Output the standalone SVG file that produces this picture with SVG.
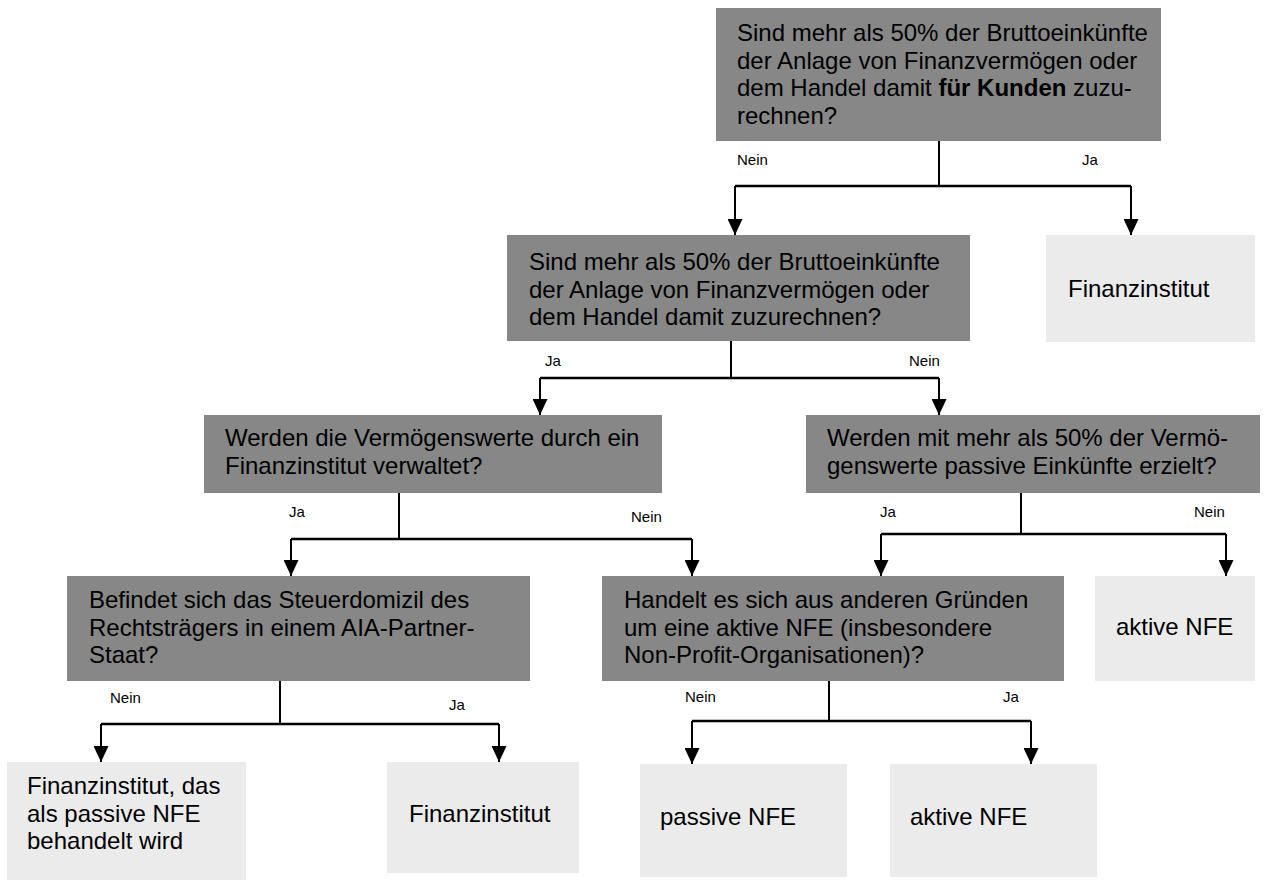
<svg xmlns="http://www.w3.org/2000/svg" width="1266" height="880" viewBox="0 0 1266 880">
<style>
.q{fill:#878787}
.r{fill:#ebebeb}
text{font-family:"Liberation Sans",Arial,sans-serif;fill:#000}
.t{font-size:24px}
.l{font-size:15px}
.bar{stroke:#000;stroke-width:2.6;fill:none}
.stem{stroke:#000;stroke-width:2;fill:none}
</style>
<defs>
<marker id="ah" markerUnits="userSpaceOnUse" markerWidth="16" markerHeight="15" refX="16" refY="7.5" orient="auto">
<path d="M0,0 L16,7.5 L0,15 z" fill="#000"/>
</marker>
</defs>
<rect width="1266" height="880" fill="#fff"/>
<g id="q1">
<rect class="q" x="716" y="8" width="445" height="133"/>
<text class="t" x="737" y="41">Sind mehr als 50% der Bruttoeinkünfte</text>
<text class="t" x="737" y="68.5">der Anlage von Finanzvermögen oder</text>
<text class="t" x="737" y="96">dem Handel damit <tspan font-weight="bold">für Kunden</tspan> zuzu-</text>
<text class="t" x="737" y="123.5">rechnen?</text>
</g>
<g id="fi1">
<rect class="r" x="1046" y="235" width="209" height="107"/>
<text class="t" x="1068" y="297">Finanzinstitut</text>
</g>
<g id="q2">
<rect class="q" x="507" y="235" width="463" height="106"/>
<text class="t" x="529" y="270">Sind mehr als 50% der Bruttoeinkünfte</text>
<text class="t" x="529" y="297.5">der Anlage von Finanzvermögen oder</text>
<text class="t" x="529" y="325">dem Handel damit zuzurechnen?</text>
</g>
<g id="q3">
<rect class="q" x="204" y="415" width="458" height="78"/>
<text class="t" x="225" y="446">Werden die Vermögenswerte durch ein</text>
<text class="t" x="225" y="473.5">Finanzinstitut verwaltet?</text>
</g>
<g id="q4">
<rect class="q" x="806" y="415" width="454" height="78"/>
<text class="t" x="827" y="446">Werden mit mehr als 50% der Vermö-</text>
<text class="t" x="827" y="473.5">genswerte passive Einkünfte erzielt?</text>
</g>
<g id="q5">
<rect class="q" x="67" y="576" width="463" height="105"/>
<text class="t" x="89" y="608">Befindet sich das Steuerdomizil des</text>
<text class="t" x="89" y="635.5">Rechtsträgers in einem AIA-Partner-</text>
<text class="t" x="89" y="663">Staat?</text>
</g>
<g id="q6">
<rect class="q" x="602" y="576" width="462" height="105"/>
<text class="t" x="624" y="608">Handelt es sich aus anderen Gründen</text>
<text class="t" x="624" y="635.5">um eine aktive NFE (insbesondere</text>
<text class="t" x="624" y="663">Non-Profit-Organisationen)?</text>
</g>
<g id="an1">
<rect class="r" x="1095" y="576" width="160" height="105"/>
<text class="t" x="1116" y="635">aktive NFE</text>
</g>
<g id="fip">
<rect class="r" x="7" y="762" width="239" height="118"/>
<text class="t" x="27" y="794">Finanzinstitut, das</text>
<text class="t" x="27" y="821.5">als passive NFE</text>
<text class="t" x="27" y="849">behandelt wird</text>
</g>
<g id="fi2">
<rect class="r" x="387" y="762" width="192" height="111"/>
<text class="t" x="409" y="822">Finanzinstitut</text>
</g>
<g id="pn">
<rect class="r" x="640" y="764" width="207" height="113"/>
<text class="t" x="660" y="825">passive NFE</text>
</g>
<g id="an2">
<rect class="r" x="890" y="764" width="207" height="113"/>
<text class="t" x="910" y="825">aktive NFE</text>
</g>
<g id="connectors">
<path class="stem" d="M939,141 V186"/>
<path class="bar" d="M735,186 H1131"/>
<path class="stem" d="M735,186 V235" marker-end="url(#ah)"/>
<path class="stem" d="M1131,186 V235" marker-end="url(#ah)"/>
<path class="stem" d="M731,341 V378"/>
<path class="bar" d="M540,378 H939"/>
<path class="stem" d="M540,378 V415" marker-end="url(#ah)"/>
<path class="stem" d="M939,378 V415" marker-end="url(#ah)"/>
<path class="stem" d="M399,493 V539"/>
<path class="bar" d="M291,539 H692"/>
<path class="stem" d="M291,539 V576" marker-end="url(#ah)"/>
<path class="stem" d="M692,539 V576" marker-end="url(#ah)"/>
<path class="stem" d="M1021,493 V534"/>
<path class="bar" d="M881,534 H1226"/>
<path class="stem" d="M881,534 V576" marker-end="url(#ah)"/>
<path class="stem" d="M1226,534 V576" marker-end="url(#ah)"/>
<path class="stem" d="M280,681 V724"/>
<path class="bar" d="M101,724 H499"/>
<path class="stem" d="M101,724 V762" marker-end="url(#ah)"/>
<path class="stem" d="M499,724 V762" marker-end="url(#ah)"/>
<path class="stem" d="M829,681 V721"/>
<path class="bar" d="M692,721 H1031"/>
<path class="stem" d="M692,721 V764" marker-end="url(#ah)"/>
<path class="stem" d="M1031,721 V764" marker-end="url(#ah)"/>
<text class="l" x="737" y="165">Nein</text>
<text class="l" x="1082" y="165">Ja</text>
<text class="l" x="545" y="366">Ja</text>
<text class="l" x="909" y="366">Nein</text>
<text class="l" x="289" y="517">Ja</text>
<text class="l" x="631" y="522">Nein</text>
<text class="l" x="880" y="517">Ja</text>
<text class="l" x="1194" y="517">Nein</text>
<text class="l" x="110" y="703">Nein</text>
<text class="l" x="449" y="710">Ja</text>
<text class="l" x="685" y="702">Nein</text>
<text class="l" x="1003" y="702">Ja</text>
</g>
</svg>
